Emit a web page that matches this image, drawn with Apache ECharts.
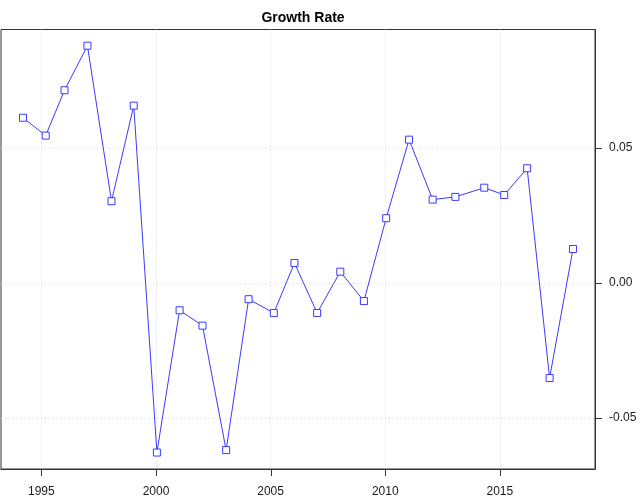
<!DOCTYPE html>
<html>
<head>
<meta charset="utf-8">
<script src="https://cdn.jsdelivr.net/npm/echarts@6/dist/echarts.min.js"></script>
<style>html,body{margin:0;padding:0;background:#fff}#c{width:640px;height:499px}</style>
</head>
<body>
<div id="c"></div>
<script>
var years = [1994.20, 1995.19, 1996.01, 1997.01, 1998.06, 1999.03, 2000.04, 2001.03, 2002.03, 2003.06, 2004.04, 2005.14, 2006.04, 2007.03, 2008.04, 2009.07, 2010.04, 2011.04, 2012.07, 2013.06, 2014.32, 2015.19, 2016.19, 2017.17, 2018.19];
var growth = [0.0612, 0.0546, 0.0714, 0.0879, 0.0303, 0.0657, -0.0628, -0.0101, -0.0158, -0.0619, -0.0060, -0.0111, 0.0074, -0.0111, 0.0042, -0.0067, 0.0240, 0.0531, 0.0309, 0.0319, 0.0353, 0.0326, 0.0425, -0.0352, 0.0126];
var xTicks = [1995, 2000, 2005, 2010, 2015];
var yTicks = [-0.05, 0, 0.05];
var yTickLabels = ['-0.05', '0.00', '0.05'];

var xMin = 1993.24, xMax = 2019.15, yMin = -0.0689, yMax = 0.0939;
var gridLeft = 1, gridRight = 45, gridTop = 29.5, gridBottom = 30;
var data = years.map(function (y, i) { return [y, growth[i]]; });
var font = 'Liberation Sans, Arial';
var chart = echarts.init(document.getElementById('c'), null, {renderer: 'canvas'});
chart.setOption({
  animation: false,
  backgroundColor: '#fff',
  title: {
    text: 'Growth Rate', left: 298, top: 6, textAlign: 'center',
    textStyle: {fontFamily: font, fontSize: 14, fontWeight: 'bold', color: '#000'}
  },
  grid: {left: gridLeft, right: gridRight, top: gridTop, bottom: gridBottom, show: true, borderColor: '#333', borderWidth: 1, backgroundColor: 'transparent'},
  xAxis: {
    type: 'value', min: xMin, max: xMax,
    axisLine: {show: true, onZero: false, lineStyle: {color: '#333'}},
    axisTick: {show: true, inside: false, length: 7, lineStyle: {color: 'rgba(0,0,0,0)', width: 1}, customValues: xTicks},
    axisLabel: {customValues: xTicks, margin: 17, color: '#1a1a1a', fontFamily: font, fontSize: 12, formatter: function (v) { return String(v); }},
    splitLine: {show: true, lineStyle: {color: '#d3d3d3', type: [1, 3], width: 1}}
  },
  yAxis: {
    type: 'value', position: 'right', min: yMin, max: yMax,
    axisLine: {show: true, onZero: false, lineStyle: {color: '#333'}},
    axisTick: {show: true, inside: false, length: 7, lineStyle: {color: 'rgba(0,0,0,0)', width: 1}, customValues: yTicks},
    axisLabel: {customValues: yTicks, margin: 14, color: '#1a1a1a', fontFamily: font, fontSize: 12,
      formatter: function (v) { var i = yTicks.findIndex(function (t) { return Math.abs(t - v) < 1e-9; }); return i >= 0 ? yTickLabels[i] : ''; }},
    splitLine: {show: true, lineStyle: {color: '#d3d3d3', type: [1, 3], width: 1}}
  },
  series: [{
    type: 'line', data: data,
    symbol: 'rect', symbolSize: 7,
    lineStyle: {color: '#3b3bff', width: 1},
    itemStyle: {color: '#fff', borderColor: '#3b3bff', borderWidth: 1},
    z: 3
  }]
});

// Outward tick marks, positioned along each axis through the library's scales
var bottomEdge = chart.getHeight() - gridBottom;
var rightEdge = chart.getWidth() - gridRight;
var tickLen = 7;
var ticks = [];
xTicks.forEach(function (v) {
  var px = Math.round(chart.convertToPixel({xAxisIndex: 0}, v)) + 0.5;
  ticks.push({type: 'line', silent: true, zlevel: 1, z: 100,
    shape: {x1: px, y1: bottomEdge, x2: px, y2: bottomEdge + tickLen},
    style: {stroke: '#333', lineWidth: 1}});
});
yTicks.forEach(function (v) {
  var py = Math.round(chart.convertToPixel({yAxisIndex: 0}, v)) + 0.5;
  ticks.push({type: 'line', silent: true, zlevel: 1, z: 100,
    shape: {x1: rightEdge, y1: py, x2: rightEdge + tickLen, y2: py},
    style: {stroke: '#333', lineWidth: 1}});
});
chart.setOption({graphic: {elements: ticks}});
</script>
</body>
</html>
